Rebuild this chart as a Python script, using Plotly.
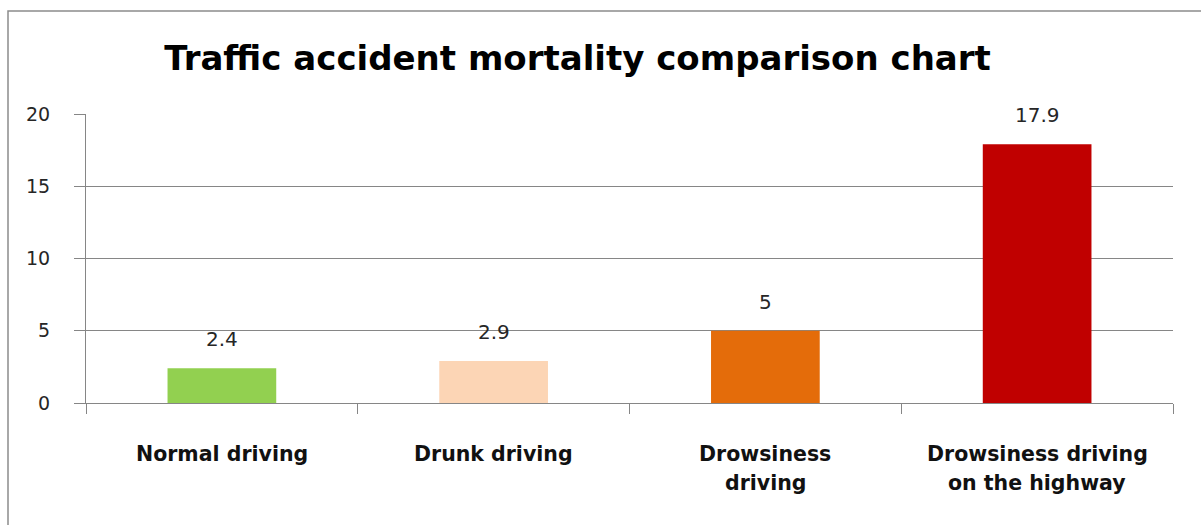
import plotly.graph_objects as go

# Chart data
categories = ["Normal driving", "Drunk driving", "Drowsiness driving", "Drowsiness driving on the highway"]
category_lines = [["Normal driving"], ["Drunk driving"], ["Drowsiness", "driving"], ["Drowsiness driving", "on the highway"]]
mortality = [2.4, 2.9, 5, 17.9]
bar_colors = ["#92D050", "#FCD5B5", "#E46C0A", "#C00000"]
y_ticks = [0, 5, 10, 15, 20]

W, H = 1201, 525
M_L, M_R, M_T, M_B = 86, 28, 114, 122
plot_w = W - M_L - M_R
plot_h = H - M_T - M_B

GRID = "#868686"
FONT = "DejaVu Sans"

fig = go.Figure(
    go.Bar(
        x=categories,
        y=mortality,
        marker=dict(color=bar_colors, line=dict(width=0)),
        hoverinfo="x+y",
    )
)

# value labels above each bar
for cat, val in zip(categories, mortality):
    fig.add_annotation(
        x=cat, y=val, xref="x", yref="y",
        text=f"{val:g}", showarrow=False,
        yanchor="middle", yshift=29,
        font=dict(family=FONT, size=20, color="#262626"),
    )

# category labels under the axis, one annotation per line
for cat, lines in zip(categories, category_lines):
    for i, line in enumerate(lines):
        fig.add_annotation(
            x=cat, y=0, xref="x", yref="y",
            text=line, showarrow=False,
            yanchor="middle", yshift=-51 - 29 * i,
            font=dict(family=FONT, size=20.5, color="#111111", weight="bold"),
        )

# outer chart frame (converted from pixel edges to paper units)
def px_to_paper_x(px):
    return (px - M_L) / plot_w

def px_to_paper_y(py):
    return (H - M_B - py) / plot_h

fig.add_shape(
    type="rect", xref="paper", yref="paper",
    x0=px_to_paper_x(8), x1=px_to_paper_x(W + 10),
    y0=px_to_paper_y(H + 10), y1=px_to_paper_y(11),
    line=dict(color="#8C8C8C", width=1.5), fillcolor="rgba(0,0,0,0)",
    layer="below",
)

fig.update_layout(
    width=W, height=H,
    margin=dict(l=M_L, r=M_R, t=M_T, b=M_B, pad=0),
    paper_bgcolor="white", plot_bgcolor="white",
    bargap=0.6,
    showlegend=False,
    title=dict(
        text="Traffic accident mortality comparison chart",
        x=577.5 / W, xanchor="center",
        y=1 - 58 / H, yanchor="middle",
        xref="container", yref="container",
        font=dict(family=FONT, size=34, color="#000000", weight="bold"),
    ),
    xaxis=dict(
        type="category",
        showgrid=False,
        showline=True, linecolor=GRID, linewidth=1,
        ticks="outside", tickson="boundaries", ticklen=10,
        tickcolor=GRID, tickwidth=1,
        showticklabels=False,
        fixedrange=True,
    ),
    yaxis=dict(
        range=[0, 20],
        tickvals=y_ticks,
        showgrid=True, gridcolor=GRID, gridwidth=1,
        showline=True, linecolor=GRID, linewidth=1,
        zeroline=False,
        ticks="outside", ticklen=11, tickcolor=GRID, tickwidth=1,
        ticklabelstandoff=20,
        tickfont=dict(family=FONT, size=19, color="#262626"),
        fixedrange=True,
    ),
)

fig.write_html("out.html")
